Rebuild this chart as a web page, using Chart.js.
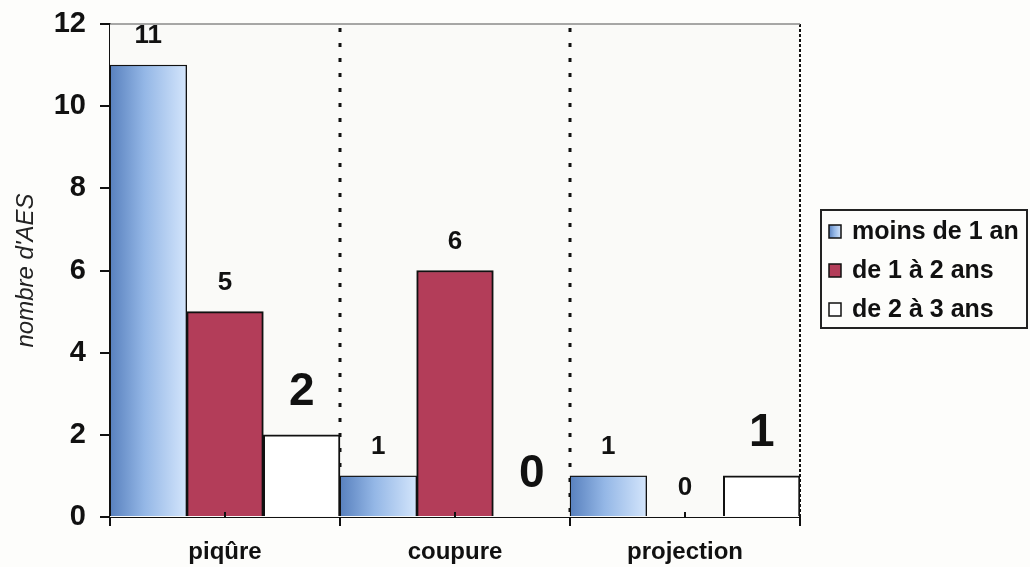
<!DOCTYPE html>
<html>
<head>
<meta charset="utf-8">
<script src="https://cdn.jsdelivr.net/npm/chart.js@4/dist/chart.umd.min.js"></script>
<style>
  html, body { margin: 0; padding: 0; background: #fdfdfb; }
  #wrap { width: 1030px; height: 567px; position: relative; }
</style>
</head>
<body>
<div id="wrap"><canvas id="aesChart"></canvas></div>
<script>
// Data
const categories = ['piqûre', 'coupure', 'projection'];
const seriesNames = ['moins de 1 an', 'de 1 à 2 ans', 'de 2 à 3 ans'];
const lessThan1 = [11, 1, 1];
const from1to2 = [5, 6, 0];
const from2to3 = [2, 0, 1];
const yTicks = [0, 2, 4, 6, 8, 10, 12];

// Styles
const FONT = "'Liberation Sans', Arial, sans-serif";
const seriesFill = ['#93b5e4', '#b33d59', '#ffffff'];
const labelSize = [26, 26, 46];
const labelGap = [22, 22, 30];

function blueGradient(ctx, x0, x1) {
    const g = ctx.createLinearGradient(x0, 0, x1, 0);
    g.addColorStop(0, '#5a82bf');
    g.addColorStop(0.45, '#94b7e6');
    g.addColorStop(1, '#d2e4fb');
    return g;
}

// Plot background + frame, gradient bars, value labels, legend
const decorPlugin = {
    id: 'decor',
    beforeDatasetsDraw(chart) {
        const { ctx, chartArea: a } = chart;
        ctx.save();
        ctx.fillStyle = '#fafaf8';
        ctx.fillRect(a.left, a.top, a.right - a.left, a.bottom - a.top);

        // dotted separators between categories
        const xs = chart.scales.x;
        ctx.strokeStyle = '#111';
        ctx.lineWidth = 3;
        ctx.setLineDash([4, 11]);
        for (let i = 0; i < categories.length - 1; i++) {
            const px = (xs.getPixelForValue(i) + xs.getPixelForValue(i + 1)) / 2;
            ctx.beginPath();
            ctx.moveTo(px, a.top + 4);
            ctx.lineTo(px, a.bottom);
            ctx.stroke();
        }
        // right border
        ctx.lineWidth = 2;
        ctx.setLineDash([3, 2]);
        ctx.beginPath();
        ctx.moveTo(a.right, a.top);
        ctx.lineTo(a.right, a.bottom);
        ctx.stroke();
        // top border
        ctx.setLineDash([]);
        ctx.strokeStyle = '#8a8a8a';
        ctx.lineWidth = 1.5;
        ctx.beginPath();
        ctx.moveTo(a.left, a.top);
        ctx.lineTo(a.right, a.top);
        ctx.stroke();
        ctx.restore();
    },
    afterDatasetsDraw(chart) {
        const { ctx, chartArea: a } = chart;
        ctx.save();
        // gradient fill on the first series
        chart.getDatasetMeta(0).data.forEach(bar => {
            const { x, y, base, width } = bar.getProps(['x', 'y', 'base', 'width'], true);
            const l = x - width / 2 + 1, r = x + width / 2 - 1;
            if (base - y < 2) return;
            ctx.fillStyle = blueGradient(ctx, l, r);
            ctx.fillRect(l, y + 1, r - l, base - y - 1);
        });
        // small inner ticks at category centres
        const xs = chart.scales.x;
        ctx.strokeStyle = '#111';
        ctx.lineWidth = 2;
        categories.forEach((c, i) => {
            const px = xs.getPixelForValue(i);
            ctx.beginPath();
            ctx.moveTo(px, a.bottom);
            ctx.lineTo(px, a.bottom - 5);
            ctx.stroke();
        });
        // value labels
        ctx.fillStyle = '#111';
        ctx.textAlign = 'center';
        ctx.textBaseline = 'alphabetic';
        chart.data.datasets.forEach((ds, di) => {
            const meta = chart.getDatasetMeta(di);
            ctx.font = `bold ${labelSize[di]}px ${FONT}`;
            meta.data.forEach((bar, i) => {
                const { x, y } = bar.getProps(['x', 'y'], true);
                ctx.fillText(String(ds.data[i]), x, y - labelGap[di]);
            });
        });
        ctx.restore();
    },
    afterDraw(chart) {
        const { ctx } = chart;
        const bx = 821, by = 210, bw = 206, bh = 118;
        ctx.save();
        ctx.fillStyle = '#fdfdfb';
        ctx.fillRect(bx, by, bw, bh);
        ctx.strokeStyle = '#222';
        ctx.lineWidth = 2;
        ctx.strokeRect(bx, by, bw, bh);
        ctx.font = `bold 25px ${FONT}`;
        ctx.textBaseline = 'middle';
        ctx.textAlign = 'left';
        chart.data.datasets.forEach((ds, i) => {
            const cy = 231 + i * 39;
            const sx = 829, sy = cy - 6, s = 12;
            ctx.fillStyle = i === 0 ? blueGradient(ctx, sx, sx + s) : ds.backgroundColor;
            ctx.fillRect(sx, sy, s, 13);
            ctx.lineWidth = 1.5;
            ctx.strokeStyle = '#111';
            ctx.strokeRect(sx, sy, s, 13);
            ctx.fillStyle = '#111';
            ctx.fillText(ds.label, 852, cy + 1);
        });
        ctx.restore();
    }
};

const ctx = document.getElementById('aesChart').getContext('2d');
new Chart(ctx, {
    type: 'bar',
    data: {
        labels: categories,
        datasets: [lessThan1, from1to2, from2to3].map((values, i) => ({
            label: seriesNames[i],
            data: values,
            backgroundColor: seriesFill[i],
            borderColor: '#111',
            borderWidth: 2,
            categoryPercentage: 1,
            barPercentage: 1
        }))
    },
    options: {
        responsive: true,
        maintainAspectRatio: false,
        animation: false,
        layout: { padding: { top: 24, right: 230, bottom: 0, left: 0 } },
        plugins: {
            legend: { display: false },
            tooltip: { enabled: false }
        },
        scales: {
            x: {
                afterFit: scale => { scale.height = 50; },
                grid: {
                    offset: true,
                    drawOnChartArea: false,
                    drawTicks: true,
                    tickLength: 9,
                    color: '#111',
                    lineWidth: 2
                },
                border: { color: '#111', width: 2 },
                ticks: {
                    padding: 12,
                    color: '#111',
                    font: { family: FONT, size: 24, weight: 'bold' }
                }
            },
            y: {
                min: 0,
                max: 12,
                afterFit: scale => {
                    scale.width = 110;
                    scale.paddingTop = 0;
                    scale.paddingBottom = 0;
                },
                afterBuildTicks: scale => { scale.ticks = yTicks.map(v => ({ value: v })); },
                grid: {
                    drawOnChartArea: false,
                    drawTicks: true,
                    tickLength: 10,
                    color: '#111',
                    lineWidth: 2
                },
                border: { color: '#111', width: 2 },
                ticks: {
                    padding: 14,
                    color: '#111',
                    font: { family: FONT, size: 29, weight: 'bold' }
                },
                title: {
                    display: true,
                    text: "nombre d'AES",
                    color: '#222',
                    padding: { top: 12, bottom: 0 },
                    font: { family: FONT, size: 24, style: 'italic' }
                }
            }
        }
    },
    plugins: [decorPlugin]
});
</script>
</body>
</html>
